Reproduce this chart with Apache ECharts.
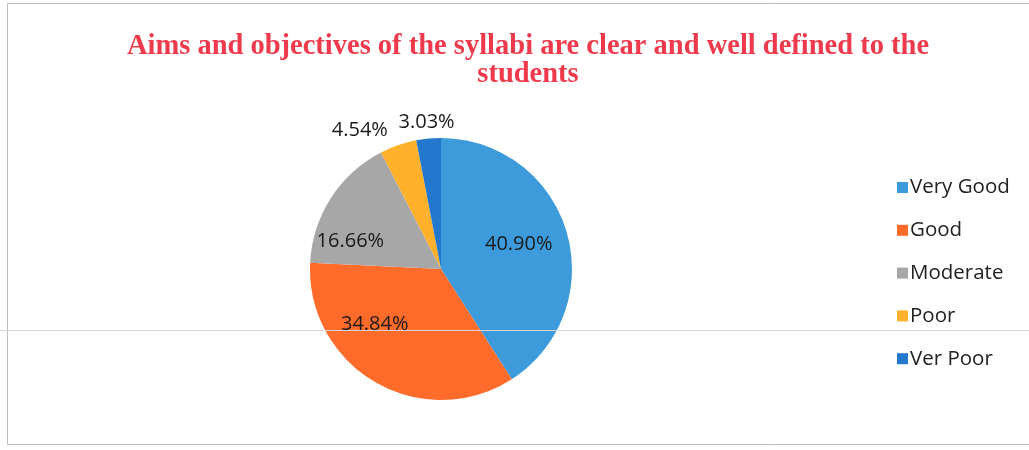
<!DOCTYPE html>
<html>
<head>
<meta charset="utf-8">
<script src="https://cdn.jsdelivr.net/npm/echarts@6/dist/echarts.min.js"></script>
<style>html,body{margin:0;padding:0;background:#fff}#c{width:1029px;height:450px}</style>
</head>
<body>
<div id="c"></div>
<script>
const categories = ['Very Good', 'Good', 'Moderate', 'Poor', 'Ver Poor'];
const values = [27, 23, 11, 3, 2];
const labels = ['40.90%', '34.84%', '16.66%', '4.54%', '3.03%'];
const colors = ['#3D9BDB', '#FF6B2B', '#A7A7A7', '#FFB12B', '#2377CD'];
const insideIdx = [0, 1, 2];
const labelShift = [[12, -5], [-32, -4], [-33, 9], [3, -5], [37, -6]];

const chart = echarts.init(document.getElementById('c'));
chart.setOption({
  animation: false,
  title: {
    text: 'Aims and objectives of the syllabi are clear and well defined to the\nstudents',
    left: 523, top: 28, textAlign: 'center',
    textStyle: { fontFamily: 'Liberation Serif', fontWeight: 'bold', fontSize: 28.5, color: '#EE3A4C', lineHeight: 28 }
  },
  legend: {
    orient: 'vertical', left: 892, top: 172, itemGap: 21.8,
    itemWidth: 11, itemHeight: 11, icon: 'rect',
    textStyle: { fontFamily: 'Open Sans', fontSize: 20.5, color: '#222', padding: [0, 0, 0, -3] },
    data: categories
  },
  graphic: [
    { type: 'rect', shape: { x: 7.5, y: 3.5, width: 1100, height: 441 }, style: { fill: 'none', stroke: '#BDBDBD', lineWidth: 1 }, silent: true },
    { type: 'line', shape: { x1: 0, y1: 330.5, x2: 1029, y2: 330.5 }, style: { stroke: '#D6D6D6', lineWidth: 1 }, silent: true, z: 100 }
  ],
  series: [{
    type: 'pie',
    center: [441, 269], radius: 131,
    startAngle: 90, clockwise: true,
    avoidLabelOverlap: false,
    labelLine: { show: false, length: 10, length2: 5 },
    label: {
      fontFamily: 'Open Sans', fontSize: 20, color: '#1A1A1A',
      formatter: p => labels[p.dataIndex]
    },
    labelLayout: p => ({ dx: labelShift[p.dataIndex][0], dy: labelShift[p.dataIndex][1] }),
    data: categories.map((c, i) => ({
      name: c, value: values[i],
      itemStyle: { color: colors[i] },
      label: { position: insideIdx.includes(i) ? 'inside' : 'outside' }
    }))
  }]
});
</script>
</body>
</html>
